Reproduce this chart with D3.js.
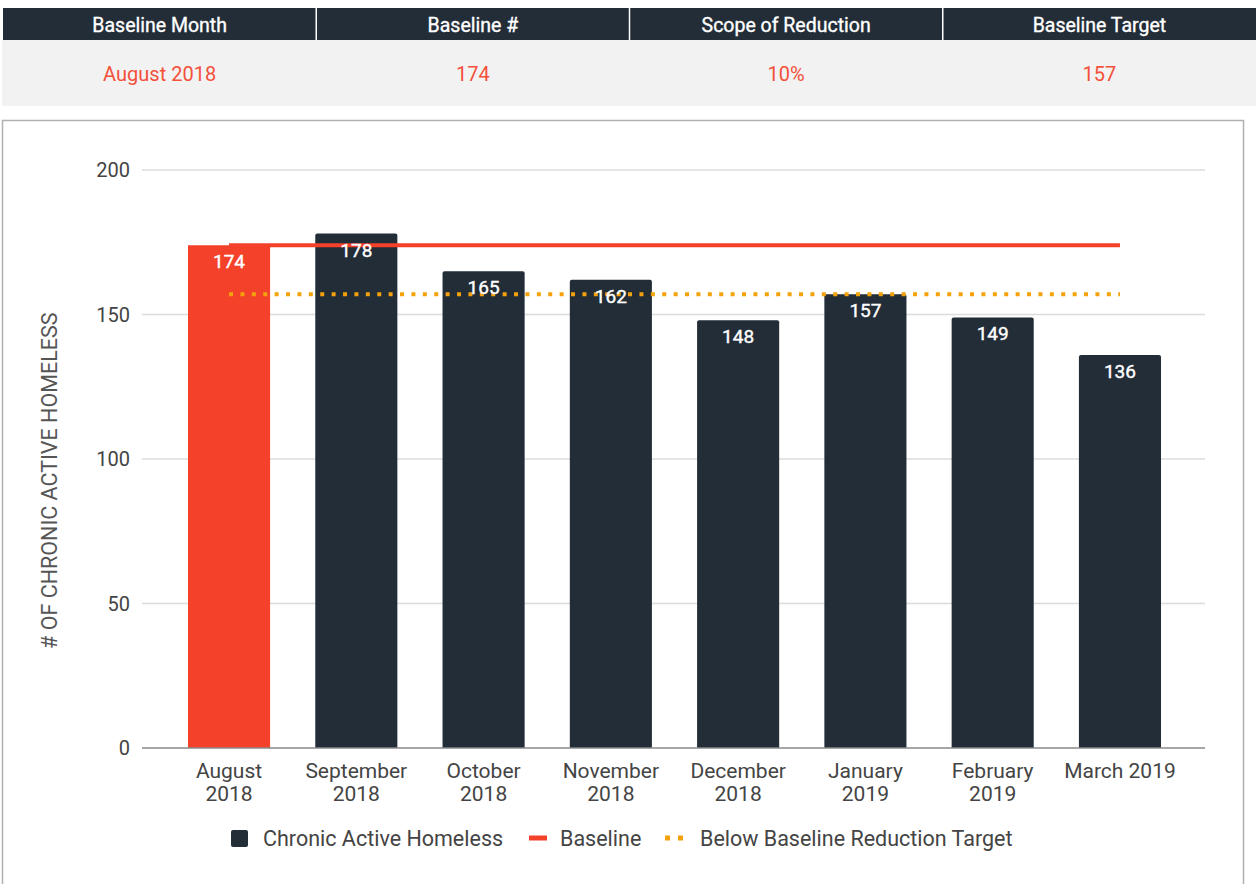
<!DOCTYPE html>
<html>
<head>
<meta charset="utf-8">
<script src="https://cdn.jsdelivr.net/npm/d3@7"></script>
<style>
  body { margin: 0; background: #fff; }
  svg { display: block; font-family: Roboto, "Noto Sans", sans-serif; }
</style>
</head>
<body>
<svg width="1257" height="884"></svg>
<script>
// summary table
var tableHeaders = ["Baseline Month", "Baseline #", "Scope of Reduction", "Baseline Target"];
var tableValues = ["August 2018", "174", "10%", "157"];

// chart data
var months = ["August 2018", "September 2018", "October 2018", "November 2018",
              "December 2018", "January 2019", "February 2019", "March 2019"];
var monthLines = [["August", "2018"], ["September", "2018"], ["October", "2018"], ["November", "2018"],
                  ["December", "2018"], ["January", "2019"], ["February", "2019"], ["March 2019"]];
var homeless = [174, 178, 165, 162, 148, 157, 149, 136];
var baseline = 174;
var target = 157;
var yTicks = [0, 50, 100, 150, 200];
var legendItems = ["Chronic Active Homeless", "Baseline", "Below Baseline Reduction Target"];

var dark = "#222d38", red = "#f4412a", orange = "#f4a20c";

var svg = d3.select("svg");

// ---- table ----
var cols = d3.scaleBand().domain(d3.range(4)).range([3, 1256]);

svg.append("rect").attr("x", 3).attr("y", 8).attr("width", 1253).attr("height", 32).attr("fill", dark);
svg.append("rect").attr("x", 2).attr("y", 40).attr("width", 1254).attr("height", 66).attr("fill", "#f2f2f2");

svg.selectAll(".sep").data(d3.range(1, 4)).enter().append("line")
    .attr("x1", function(d) { return cols(d); }).attr("x2", function(d) { return cols(d); })
    .attr("y1", 8).attr("y2", 40)
    .attr("stroke", "#fff").attr("stroke-width", 1.5);

svg.selectAll(".th").data(tableHeaders).enter().append("text")
    .attr("x", function(d, i) { return cols(i) + cols.bandwidth() / 2; })
    .attr("y", 32)
    .attr("text-anchor", "middle")
    .attr("fill", "#fff")
    .attr("stroke", "#fff").attr("stroke-width", 0.35)
    .attr("font-size", 19.5)
    .text(function(d) { return d; });

svg.selectAll(".td").data(tableValues).enter().append("text")
    .attr("x", function(d, i) { return cols(i) + cols.bandwidth() / 2; })
    .attr("y", 81)
    .attr("text-anchor", "middle")
    .attr("fill", "#f4503a")
    .attr("font-size", 20)
    .text(function(d) { return d; });

// ---- chart panel ----
svg.append("rect").attr("x", 2.5).attr("y", 120.5).attr("width", 1241).attr("height", 800)
    .attr("fill", "#fff").attr("stroke", "#b0b0b0").attr("stroke-width", 1.5);

var x = d3.scaleBand().domain(months).range([165.4, 1183.6]).paddingInner(0.355).paddingOuter(0.1775);
var y = d3.scaleLinear().domain([0, 200]).range([748, 170]);

var gx0 = 142, gx1 = 1205;

// gridlines
svg.append("g").selectAll("line").data(yTicks.filter(function(d) { return d > 0; })).enter().append("line")
    .attr("x1", gx0).attr("x2", gx1)
    .attr("y1", function(d) { return y(d); }).attr("y2", function(d) { return y(d); })
    .attr("stroke", "#dcdcdc").attr("stroke-width", 1.5);

// y tick labels
svg.append("g").selectAll("text").data(yTicks).enter().append("text")
    .attr("x", 130)
    .attr("y", function(d) { return y(d); })
    .attr("dy", "0.35em")
    .attr("text-anchor", "end")
    .attr("fill", "#444")
    .attr("font-size", 20)
    .text(function(d) { return d; });

// y title
svg.append("text")
    .attr("transform", "translate(57," + y(92.5) + ") rotate(-90)")
    .attr("text-anchor", "middle")
    .attr("fill", "#555")
    .attr("font-size", 21.5)
    .text("# OF CHRONIC ACTIVE HOMELESS");

// bars
svg.append("g").selectAll("path").data(homeless).enter().append("path")
    .attr("fill", function(d, i) { return i === 0 ? red : dark; })
    .attr("d", function(d, i) {
      var x0 = x(months[i]), w = x.bandwidth(), y0 = y(d), y1 = y(0), r = i === 0 ? 0 : 2;
      return "M" + x0 + "," + y1 + "V" + (y0 + r) + "Q" + x0 + "," + y0 + " " + (x0 + r) + "," + y0 +
             "H" + (x0 + w - r) + "Q" + (x0 + w) + "," + y0 + " " + (x0 + w) + "," + (y0 + r) + "V" + y1 + "Z";
    });

// axis baseline
svg.append("line")
    .attr("x1", gx0).attr("x2", gx1).attr("y1", y(0)).attr("y2", y(0))
    .attr("stroke", "#8a8a8a").attr("stroke-width", 1.5);

// reference lines
var lineX0 = x(months[0]) + x.bandwidth() / 2,
    lineX1 = x(months[months.length - 1]) + x.bandwidth() / 2;

svg.append("line")
    .attr("x1", lineX0).attr("x2", lineX1).attr("y1", y(baseline)).attr("y2", y(baseline))
    .attr("stroke", red).attr("stroke-width", 4);

svg.append("line")
    .attr("x1", lineX0).attr("x2", lineX1).attr("y1", y(target)).attr("y2", y(target))
    .attr("stroke", orange).attr("stroke-width", 4).attr("stroke-dasharray", "4,7.4");

// bar value labels
svg.append("g").selectAll("text").data(homeless).enter().append("text")
    .attr("x", function(d, i) { return x(months[i]) + x.bandwidth() / 2; })
    .attr("y", function(d) { return y(d) + 23; })
    .attr("text-anchor", "middle")
    .attr("fill", "#fff")
    .attr("stroke", "#fff").attr("stroke-width", 0.4)
    .attr("font-size", 19)
    .text(function(d) { return d; });

// x labels
var xl = svg.append("g").selectAll("text").data(monthLines).enter().append("text")
    .attr("text-anchor", "middle")
    .attr("fill", "#444")
    .attr("font-size", 21);
xl.selectAll("tspan").data(function(d, i) { return d.map(function(s) { return { s: s, i: i }; }); })
  .enter().append("tspan")
    .attr("x", function(d) { return x(months[d.i]) + x.bandwidth() / 2; })
    .attr("y", function(d, j) { return 778 + j * 23; })
    .text(function(d) { return d.s; });

// legend
var lg = svg.append("g").attr("font-size", 21.5).attr("fill", "#444");
lg.append("rect").attr("x", 231).attr("y", 830).attr("width", 17).attr("height", 17).attr("rx", 2).attr("fill", dark);
lg.append("text").attr("x", 263).attr("y", 845.5).text(legendItems[0]);
lg.append("line").attr("x1", 529).attr("x2", 547).attr("y1", 838).attr("y2", 838).attr("stroke", red).attr("stroke-width", 5);
lg.append("text").attr("x", 560).attr("y", 845.5).text(legendItems[1]);
lg.append("line").attr("x1", 665).attr("x2", 686).attr("y1", 838).attr("y2", 838).attr("stroke", orange).attr("stroke-width", 5).attr("stroke-dasharray", "5,8");
lg.append("text").attr("x", 700).attr("y", 845.5).text(legendItems[2]);
</script>
</body>
</html>
